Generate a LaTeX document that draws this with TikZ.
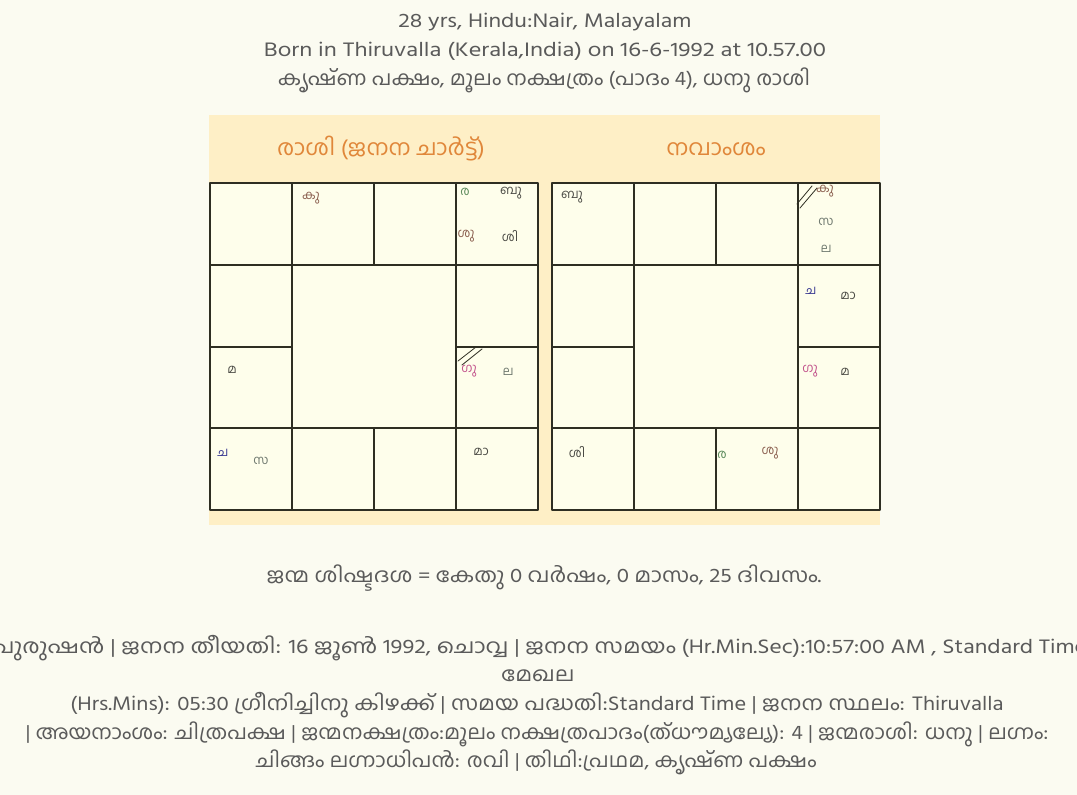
\documentclass[tikz,border=0pt]{standalone}
\usepackage{fontspec}
\setmainfont{Hind Kochi}[Script=Malayalam]
\newfontfamily\mlnarrow{Hind Kochi}[Script=Malayalam, FakeStretch=1.07]
\newfontfamily\mlmid{Hind Kochi}[Script=Malayalam, FakeStretch=1.12]
\newfontfamily\mlwide{Hind Kochi}[Script=Malayalam, FakeStretch=1.17]
\newfontfamily\mlwider{Hind Kochi}[Script=Malayalam, FakeStretch=1.21]
\newfontfamily\mltitle{Hind Kochi}[Script=Malayalam, FakeStretch=1.05]
\definecolor{pagecream}{HTML}{FBFBF1}
\definecolor{bandyellow}{HTML}{FEEFC6}
\definecolor{chartfill}{HTML}{FEFEEB}
\definecolor{gridline}{HTML}{2E2E22}
\definecolor{infogray}{HTML}{5A5A5A}
\definecolor{titleorange}{HTML}{E0873A}
\definecolor{grahadark}{HTML}{4A4A44}
\definecolor{grahagreen}{HTML}{5B8A5B}
\definecolor{grahabrown}{HTML}{8A5E4E}
\definecolor{grahapink}{HTML}{C2528C}
\definecolor{grahablue}{HTML}{3A3A92}
\definecolor{grahagray}{HTML}{6E786E}
\begin{document}
\begin{tikzpicture}[x=1pt, y=-1pt, line join=round, line cap=round,
  every node/.style={inner sep=0pt},
  info/.style={text=infogray, font=#1\fontsize{20}{24}\selectfont},
  info/.default=\mlmid,
  charttitle/.style={text=titleorange, font=\mltitle\fontsize{22}{26}\selectfont},
  graha/.style={text=grahadark, font=\fontsize{12.5}{14}\selectfont}]
\useasboundingbox[fill=pagecream] (0,0) rectangle (1077,795);
\fill[bandyellow] (209,115) rectangle (880,525);
% the two charts
\foreach \ox in {210,552}{
  \filldraw[fill=chartfill, draw=gridline, line width=1.1pt] (\ox,183) rectangle ++(328,327);
  \draw[gridline, line width=1.1pt] (\ox,265) -- ++(328,0) (\ox,428) -- ++(328,0)
    (\ox,347) -- ++(82,0) (\ox+246,347) -- ++(82,0)
    (\ox+82,183) -- ++(0,327) (\ox+246,183) -- ++(0,327)
    (\ox+164,183) -- ++(0,82) (\ox+164,428) -- ++(0,82);
}
\node[charttitle] (rasi-title) at (381,149) {രാശി (ജനന ചാർട്ട്)};
\node[charttitle] (navamsa-title) at (716,149) {നവാംശം};
% header
\node[info=\mlwide] (age) at (545,22) {28 yrs, Hindu:Nair, Malayalam};
\node[info=\mlwider] (born) at (545,51) {Born in Thiruvalla (Kerala,India) on 16-6-1992 at 10.57.00};
\node[info=\mlnarrow] (paksha) at (544,80) {കൃഷ്ണ പക്ഷം, മൂലം നക്ഷത്രം (പാദം 4), ധനു രാശി};
% rasi chart
\node[graha, text=grahabrown] (r-ku) at (311,198) {കു};
\node[graha, text=grahagreen] (r-ra) at (465,192) {ര};
\node[graha] (r-bu) at (511,193) {ബു};
\node[graha, text=grahabrown] (r-su) at (466,236) {ശു};
\node[graha] (r-si) at (510,236) {ശി};
\node[graha] (r-ma) at (232,370) {മ};
\draw[gridline, line width=0.8pt] (458,361) -- (476,347) (462,365) -- (482,349);
\node[graha, text=grahapink] (r-gu) at (469,371) {ഗു};
\node[graha, text=grahagray] (r-la) at (508,372) {ല};
\node[graha, text=grahablue] (r-ca) at (223,453) {ച};
\node[graha, text=grahagray] (r-sa) at (261,461) {സ};
\node[graha] (r-maa) at (481,452) {മാ};
% navamsa chart
\node[graha] (n-bu) at (572,197) {ബു};
\draw[gridline, line width=0.8pt] (797,204) -- (812,186) (800,208) -- (817,188);
\node[graha, text=grahabrown] (n-ku) at (825,191) {കു};
\node[graha, text=grahagray] (n-sa) at (826,222) {സ};
\node[graha, text=grahagray] (n-la) at (826,249) {ല};
\node[graha, text=grahablue] (n-ca) at (811,291) {ച};
\node[graha] (n-maa) at (848,296) {മാ};
\node[graha, text=grahapink] (n-gu) at (810,371) {ഗു};
\node[graha] (n-ma) at (845,372) {മ};
\node[graha] (n-si) at (577,452) {ശി};
\node[graha, text=grahagreen] (n-ra) at (722,455) {ര};
\node[graha, text=grahabrown] (n-su) at (770,453) {ശു};
% dasha and details
\node[info] (dasha) at (544,578) {ജന്മ ശിഷ്ടദശ = കേതു 0 വർഷം, 0 മാസം, 25 ദിവസം.};
\node[info=\mlwide] (line-a) at (540,648) {പുരുഷൻ | ജനന തീയതി: 16 ജൂൺ 1992, ചൊവ്വ | ജനന സമയം (Hr.Min.Sec):10:57:00 AM , Standard Time};
\node[info] (line-b) at (538,676) {മേഖല};
\node[info] (line-c) at (537,705) {(Hrs.Mins): 05:30 ഗ്രീനിച്ചിനു കിഴക്ക് | സമയ പദ്ധതി:Standard Time | ജനന സ്ഥലം: Thiruvalla};
\node[info=\mlnarrow] (line-d) at (537,734) {| അയനാംശം: ചിത്രപക്ഷ | ജന്മനക്ഷത്രം:മൂലം നക്ഷത്രപാദം(ത്ധൗമ്യല്യേ): 4 | ജന്മരാശി: ധനു | ലഗ്നം:};
\node[info=\mlnarrow] (line-e) at (536,762) {ചിങ്ങം ലഗ്നാധിപൻ: രവി | തിഥി:പ്രഥമ, കൃഷ്ണ പക്ഷം};
\end{tikzpicture}
\end{document}
